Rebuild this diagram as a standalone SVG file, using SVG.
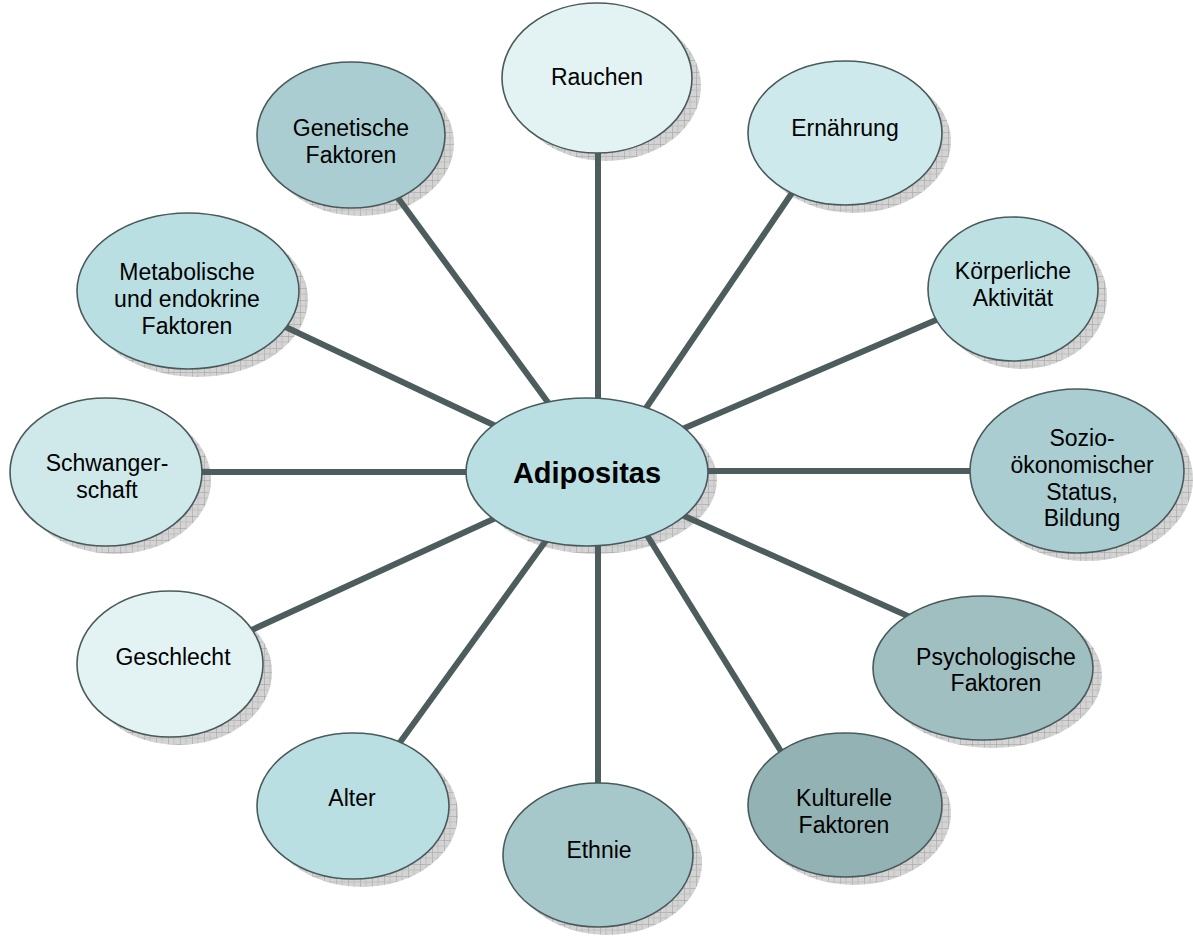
<svg xmlns="http://www.w3.org/2000/svg" width="1193" height="938" viewBox="0 0 1193 938">
<style>
.n{stroke:#4a5a5a;stroke-width:1.6}
.sh{fill:url(#hatch)}
.c{stroke:#4d5c5c;stroke-width:6;fill:none}
text{font-family:"Liberation Sans",Arial,sans-serif;font-size:23px;fill:#000;text-anchor:middle}
.b{font-weight:bold;font-size:29px}
</style>
<defs>
<pattern id="hatch" width="12" height="12" patternUnits="userSpaceOnUse">
<rect width="12" height="12" fill="#d4d4d4"/>
<path d="M0 0H12M0 0V12" stroke="#9a9a9a" stroke-width="1"/>
<path d="M0 6H12M6 0V12" stroke="#bbbbbb" stroke-width="0.8"/>
</pattern>
</defs>
<rect width="1193" height="938" fill="#fff"/>
<g id="shadows">
<ellipse class="sh" cx="606" cy="86" rx="95" ry="75"/>
<ellipse class="sh" cx="360" cy="143" rx="94" ry="73"/>
<ellipse class="sh" cx="854" cy="141" rx="97" ry="72"/>
<ellipse class="sh" cx="197" cy="299" rx="111" ry="78"/>
<ellipse class="sh" cx="1022" cy="297" rx="85" ry="72"/>
<ellipse class="sh" cx="115" cy="480" rx="96" ry="74"/>
<ellipse class="sh" cx="596" cy="480" rx="121" ry="74"/>
<ellipse class="sh" cx="1086" cy="479" rx="107" ry="82"/>
<ellipse class="sh" cx="179" cy="672" rx="93" ry="73"/>
<ellipse class="sh" cx="992" cy="676" rx="110" ry="72"/>
<ellipse class="sh" cx="362" cy="814" rx="96" ry="73"/>
<ellipse class="sh" cx="854" cy="813" rx="97" ry="72"/>
<ellipse class="sh" cx="607" cy="863" rx="95" ry="72"/>
</g>
<g id="connectors">
<line class="c" x1="598" y1="140" x2="598" y2="410"/>
<line class="c" x1="398" y1="198" x2="555" y2="412"/>
<line class="c" x1="794" y1="190" x2="642" y2="414"/>
<line class="c" x1="275" y1="322" x2="500" y2="428"/>
<line class="c" x1="950" y1="314" x2="680" y2="430"/>
<line class="c" x1="190" y1="472" x2="480" y2="472"/>
<line class="c" x1="700" y1="471" x2="985" y2="471"/>
<line class="c" x1="245" y1="633" x2="500" y2="516"/>
<line class="c" x1="910" y1="617" x2="682" y2="515"/>
<line class="c" x1="393" y1="752" x2="550" y2="535"/>
<line class="c" x1="782" y1="753" x2="645" y2="532"/>
<line class="c" x1="598" y1="535" x2="598" y2="795"/>
</g>
<g id="n-rauchen"><ellipse class="n" cx="597" cy="78" rx="95" ry="75" fill="#e3f3f4"/><text x="597" y="85">Rauchen</text></g>
<g id="n-genetische"><ellipse class="n" cx="351" cy="135" rx="94" ry="73" fill="#a9cdd0"/><text x="351" y="136">Genetische</text><text x="351" y="163">Faktoren</text></g>
<g id="n-ernaehrung"><ellipse class="n" cx="845" cy="133" rx="97" ry="72" fill="#cde9eb"/><text x="845" y="136">Ernährung</text></g>
<g id="n-metabolische"><ellipse class="n" cx="188" cy="291" rx="111" ry="78" fill="#b9dfe2"/><text x="187" y="280">Metabolische</text><text x="187" y="307">und endokrine</text><text x="187" y="334">Faktoren</text></g>
<g id="n-koerperliche"><ellipse class="n" cx="1013" cy="289" rx="85" ry="72" fill="#bde0e3"/><text x="1013" y="279">Körperliche</text><text x="1013" y="306">Aktivität</text></g>
<g id="n-schwangerschaft"><ellipse class="n" cx="106" cy="472" rx="96" ry="74" fill="#cfe9eb"/><text x="107" y="471">Schwanger-</text><text x="107" y="498">schaft</text></g>
<g id="n-adipositas"><ellipse class="n" cx="587" cy="472" rx="121" ry="74" fill="#b9dfe2"/><text class="b" x="587" y="483">Adipositas</text></g>
<g id="n-sozio"><ellipse class="n" cx="1077" cy="471" rx="107" ry="82" fill="#a9cdd0"/><text x="1082" y="446">Sozio-</text><text x="1082" y="473">ökonomischer</text><text x="1082" y="500">Status,</text><text x="1082" y="526">Bildung</text></g>
<g id="n-geschlecht"><ellipse class="n" cx="170" cy="664" rx="93" ry="73" fill="#e3f3f4"/><text x="173" y="665">Geschlecht</text></g>
<g id="n-psychologische"><ellipse class="n" cx="983" cy="668" rx="110" ry="72" fill="#9fbfc1"/><text x="996" y="665">Psychologische</text><text x="996" y="691">Faktoren</text></g>
<g id="n-alter"><ellipse class="n" cx="353" cy="806" rx="96" ry="73" fill="#b9dfe2"/><text x="352" y="806">Alter</text></g>
<g id="n-kulturelle"><ellipse class="n" cx="845" cy="805" rx="97" ry="72" fill="#93b2b3"/><text x="844" y="806">Kulturelle</text><text x="844" y="833">Faktoren</text></g>
<g id="n-ethnie"><ellipse class="n" cx="598" cy="855" rx="95" ry="72" fill="#a6c8cb"/><text x="599" y="858">Ethnie</text></g>
</svg>
